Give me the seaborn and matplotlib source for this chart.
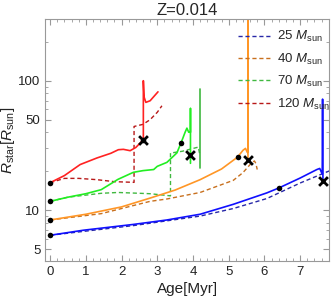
import numpy as np
import pandas as pd
import matplotlib
matplotlib.use("Agg")
import matplotlib.pyplot as plt
import matplotlib.ticker as mticker
import seaborn as sns

# values (age in Myr, radius in R_sun)
age_25 = [0, 0.93, 2.33, 3.27, 4.2, 5.13, 6.07, 6.42, 7.0, 7.47, 7.55, 7.62, 7.63, 7.64]
r_25 = [6.4, 7.0, 7.76, 8.4, 9.3, 11.1, 13.6, 14.9, 17.7, 20.6, 21.0, 19.0, 72, 17]
age_25d = [0, 2.33, 4.2, 5.13, 6.07, 7.0, 7.8, 7.9]
r_25d = [6.4, 7.6, 9.0, 10.3, 12.3, 16.2, 20.0, 20.5]

age_40 = [0, 1.0, 2.0, 2.8, 3.5, 4.2, 4.8, 5.25, 5.4, 5.47, 5.52, 5.54, 5.54, 5.54]
r_40 = [8.4, 9.3, 10.6, 12.4, 14.3, 17.2, 20.8, 25.7, 29.0, 30.0, 28.0, 28.0, 350, 24.5]
age_40d = [0, 1.43, 2.8, 3.27, 4.2, 5.13, 5.4, 5.63, 5.72, 5.76, 5.8]
r_40d = [8.4, 9.4, 11.7, 12.2, 13.7, 17.0, 19.5, 23.0, 24.0, 23.0, 20.6]

age_70 = [0, 0.5, 1.0, 1.43, 1.9, 2.33, 2.6, 2.9, 3.0, 3.27, 3.55, 3.67, 3.78, 3.83, 3.88, 3.93, 3.93, 3.93]
r_70 = [11.7, 12.6, 13.4, 14.4, 17.3, 19.6, 20.2, 20.6, 21.8, 23.4, 27.7, 33.3, 40, 43, 40, 40, 61, 23]
age_70d = [0, 0.5, 0.93, 1.43, 1.9, 2.5, 2.8, 3.37, 3.37, 3.7, 4.15, 4.19]
r_70d = [11.7, 12.6, 13.0, 13.5, 13.7, 13.5, 13.4, 12.9, 27.6, 28.5, 30.7, 27.0]
age_70v = [4.19, 4.19]
r_70v = [21.2, 87]

age_120 = [0, 0.4, 0.84, 1.31, 1.7, 1.91, 2.05, 2.24, 2.4, 2.61, 2.61, 2.63, 2.68, 2.8, 3.02]
r_120 = [16.3, 18.5, 22.5, 25.3, 27.5, 29.3, 29.5, 28.8, 30.5, 35, 100, 75, 68, 70, 82]
age_120d = [0, 0.4, 0.8, 1.31, 1.8, 2.35, 2.35, 2.6, 2.8, 3.0, 3.13]
r_120d = [16.3, 17.6, 17.6, 17.2, 16.6, 16.4, 44.3, 46, 50, 57, 64]

dot_age = [0, 0, 0, 0, 6.42, 5.25, 3.67, 2.61]
dot_r = [6.4, 8.4, 11.7, 16.3, 14.9, 25.7, 33.3, 35]
x_age = [7.63, 5.54, 3.93, 2.61]
x_r = [16.7, 24.5, 26.8, 35]

masses = ["25", "40", "70", "120"]
solid_colors = ["#1010ff", "#ff9626", "#22ee22", "#ff2222"]
dashed_colors = ["#2828a8", "#c8701e", "#40b840", "#b81818"]

solid = [(age_25, r_25), (age_40, r_40), (age_70, r_70), (age_120, r_120)]
dashed = [(age_25d, r_25d), (age_40d, r_40d), (age_70d, r_70d), (age_120d, r_120d)]

sns.set_style("ticks")
plt.rcParams["font.family"] = ["Liberation Sans", "DejaVu Sans"]
plt.rcParams["mathtext.fontset"] = "custom"
plt.rcParams["mathtext.rm"] = "Liberation Sans"
plt.rcParams["mathtext.it"] = "Liberation Sans:italic"

fig = plt.figure(figsize=(3.32, 3.0), dpi=100)
ax = fig.add_axes([0.136, 0.13, 0.855, 0.807])

for m, (a, r), c in zip(masses, dashed, dashed_colors):
    df = pd.DataFrame({"Age": a, "R": r})
    sns.lineplot(data=df, x="Age", y="R", ax=ax, sort=False, estimator=None,
                 color=c, lw=1.0, dashes=False, label=f"{m} $M_{{\\rm sun}}$")
    ax.lines[-1].set_dashes((3, 2))

for (a, r), c in zip(solid, solid_colors):
    df = pd.DataFrame({"Age": a, "R": r})
    sns.lineplot(data=df, x="Age", y="R", ax=ax, sort=False, estimator=None,
                 color=c, lw=1.2)

sns.lineplot(data=pd.DataFrame({"Age": age_70v, "R": r_70v}), x="Age", y="R",
             ax=ax, sort=False, estimator=None, color=dashed_colors[2], lw=1.2)

sns.scatterplot(x=dot_age, y=dot_r, ax=ax, color="black", s=16, linewidth=0, zorder=5)
sns.scatterplot(x=x_age, y=x_r, ax=ax, color="black", marker="x", s=40,
                linewidth=2, zorder=6)

ax.set_yscale("log")
ax.set_xlim(-0.14, 7.81)
ax.set_ylim(4.05, 300)
ax.set_yticks([5, 10, 50, 100])
ax.yaxis.set_major_formatter(mticker.FuncFormatter(lambda v, p: f"{v:g}"))
ax.yaxis.set_minor_locator(mticker.LogLocator(base=10, subs=np.arange(1, 10)))
ax.yaxis.set_minor_formatter(mticker.NullFormatter())
ax.set_xticks(range(0, 8))
ax.xaxis.set_minor_locator(mticker.MultipleLocator(0.2))

ax.tick_params(which="both", direction="in", top=True, right=True,
               color="#999999", labelsize=9.5, labelcolor="#222222")
ax.tick_params(which="major", length=4)
ax.tick_params(which="minor", length=2)
for s in ax.spines.values():
    s.set_color("#999999")
    s.set_linewidth(0.8)

ax.set_xlabel("Age[Myr]", fontsize=11, color="#222222", labelpad=3)
ax.set_ylabel(r"$R_{\rm star}[R_{\rm sun}]$", fontsize=11, color="#222222", labelpad=1)
ax.set_title("Z=0.014", fontsize=12, pad=3)

ax.legend(loc="upper right", bbox_to_anchor=(1.035, 0.995), frameon=False,
          fontsize=9.5, handlelength=2.4, labelspacing=0.55, handletextpad=0.5,
          borderaxespad=0.3)

fig.savefig("out.png", dpi=100)
